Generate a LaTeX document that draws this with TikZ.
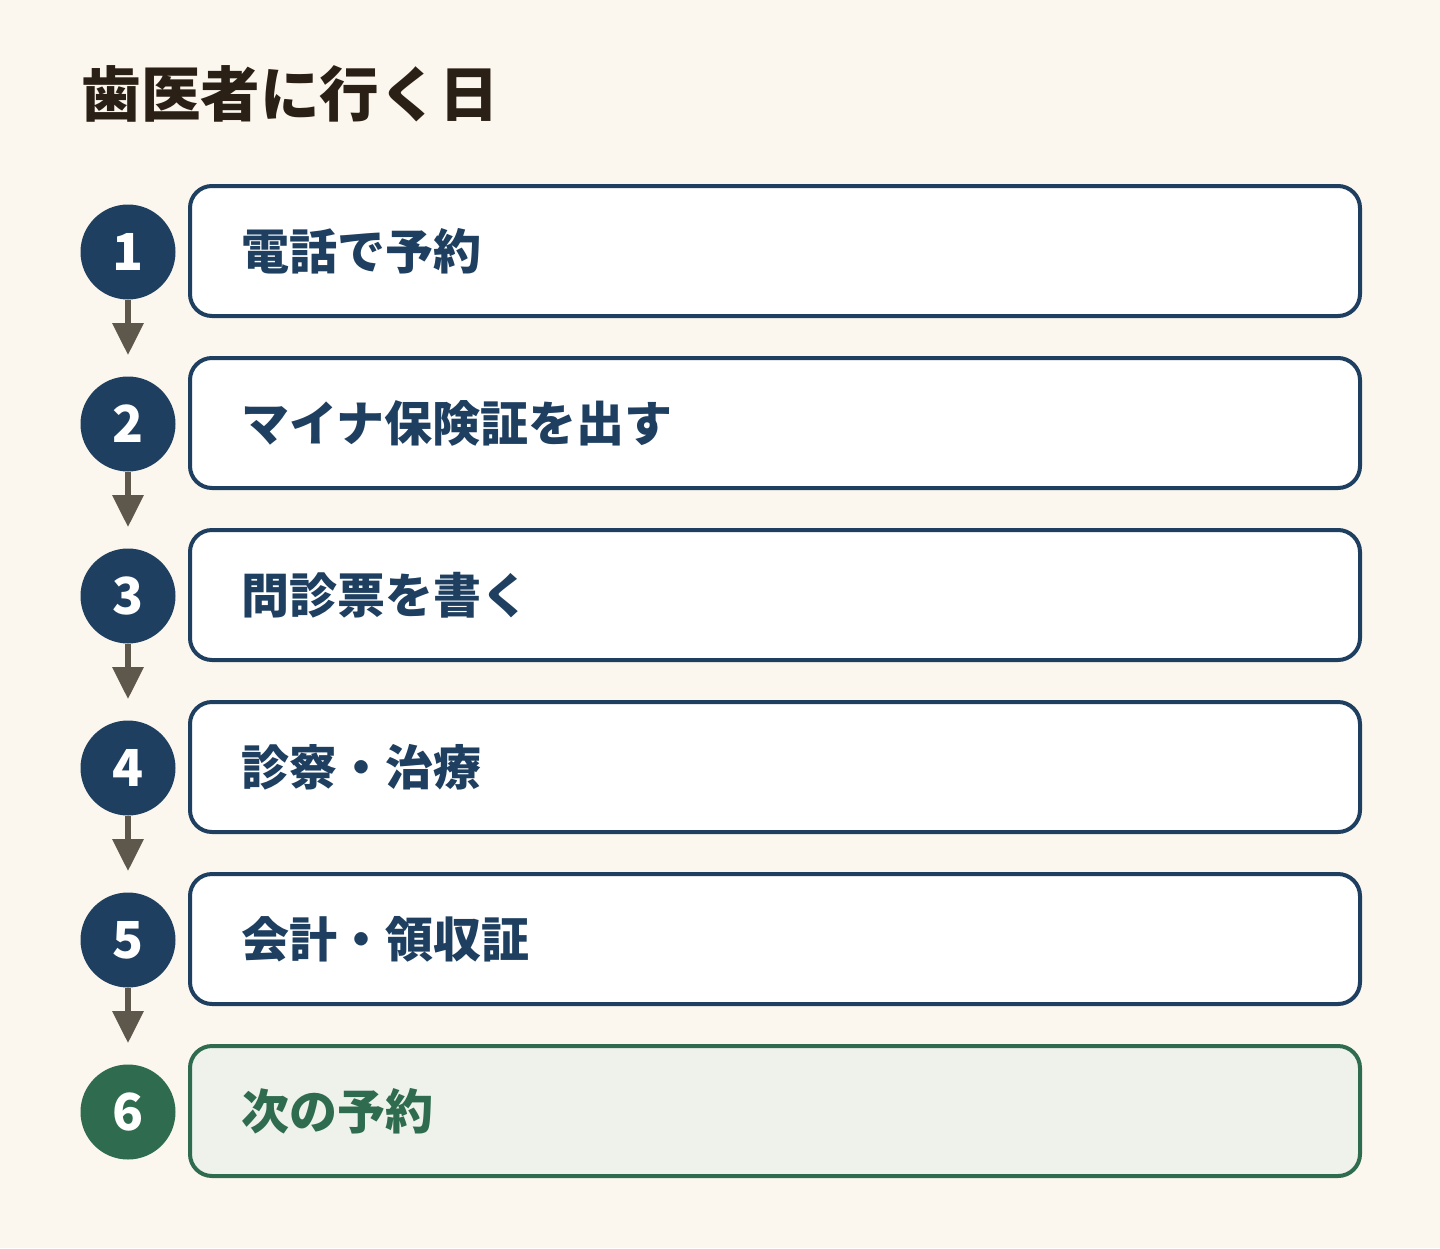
\documentclass[tikz,border=0pt]{standalone}
\usepackage{fontspec}
\newfontfamily\cjk{Noto Sans CJK JP}
\usetikzlibrary{arrows.meta}
\definecolor{bg}{HTML}{FBF7EE}
\definecolor{navy}{HTML}{1E3F5F}
\definecolor{grn}{HTML}{2E6B4F}
\definecolor{grnfill}{HTML}{EEF2EA}
\definecolor{arr}{HTML}{5E574B}
\definecolor{ttl}{HTML}{2A2016}
\tikzset{
  num/.style={circle, fill=navy, minimum size=47.5pt, inner sep=0pt, text=white, font=\cjk\bfseries\fontsize{25.5}{25.5}\selectfont},
  numg/.style={num, fill=grn},
  stepbox/.style={draw=navy, line width=2pt, fill=white, rounded corners=11pt, minimum width=585pt, minimum height=65pt, inner xsep=25.5pt, text width=534pt, align=left, text=navy, font=\cjk\bfseries\fontsize{24}{24}\selectfont},
  stepboxg/.style={stepbox, draw=grn, fill=grnfill, text=grn},
  flow/.style={arr, line width=3pt, -{Triangle[width=15pt,length=16pt]}, shorten >=10.5pt}
}
\begin{document}
\begin{tikzpicture}[x=0.5pt,y=-0.5pt]
\fill[bg] (0,0) rectangle (1440,1248);
\useasboundingbox (0,0) rectangle (1440,1248);
\node[anchor=west, inner sep=0pt, text=ttl, font=\cjk\bfseries\fontsize{29.8}{29.8}\selectfont] (title) at (81,94) {歯医者に行く日};
\node[stepbox] (b1) at (775,251) {電話で予約};
\node[stepbox] (b2) at (775,423) {マイナ保険証を出す};
\node[stepbox] (b3) at (775,595) {問診票を書く};
\node[stepbox] (b4) at (775,767) {診察・治療};
\node[stepbox] (b5) at (775,939) {会計・領収証};
\node[stepboxg] (b6) at (775,1111) {次の予約};
\node[num] (n1) at (128,252) {1};
\node[num] (n2) at (128,424) {2};
\node[num] (n3) at (128,596) {3};
\node[num] (n4) at (128,768) {4};
\node[num] (n5) at (128,940) {5};
\node[numg] (n6) at (128,1112) {6};
\foreach \a/\b in {n1/n2,n2/n3,n3/n4,n4/n5,n5/n6}
  \draw[flow] (\a.south) -- (\b.north);
\end{tikzpicture}
\end{document}
